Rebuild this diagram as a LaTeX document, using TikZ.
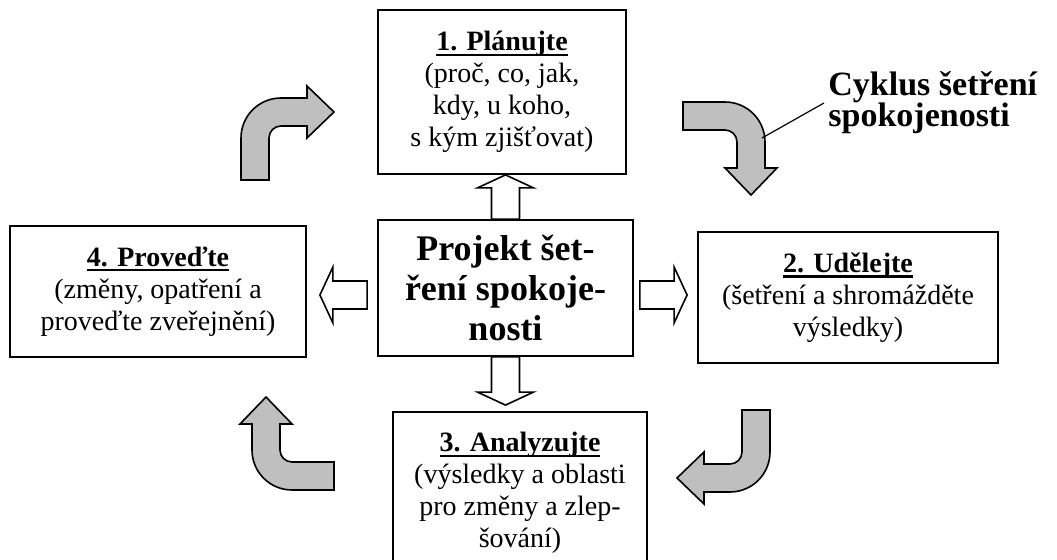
\documentclass[tikz,border=0pt]{standalone}
\usepackage{fontspec}
\setmainfont{Liberation Serif}
\usetikzlibrary{calc}

\newcommand{\titel}[1]{\setbox0\hbox{\textbf{#1}}\leavevmode\rlap{\rule[-2.6pt]{\wd0}{1.1pt}}\box0}

\tikzset{
  box/.style={draw, rectangle, line width=0.9pt, align=center, font=\fontsize{14}{16}\selectfont},
  hollow/.style={draw, fill=white, line width=0.8pt, line join=miter},
  grayarrow/.style={draw, fill=black!25, line width=0.8pt},
  bent/.pic={\draw[grayarrow] (0,82) -- (0,40) .. controls (0,17.91) and (17.91,0) .. (40,0) -- (66,0) -- (66,-12) -- (93,14) -- (66,40) -- (66,28) -- (40,28) .. controls (33.37,28) and (28,33.37) .. (28,40) -- (28,82) -- cycle;}
}

\newcommand{\hollowarrow}[2]{%
  \draw[hollow] let \p1=(#1), \p2=(#2),
    \n1={atan2(\y2-\y1,\x2-\x1)}, \n2={veclen(\x2-\x1,\y2-\y1)} in
    [shift={(\p1)}, rotate=\n1]
    (0pt,-7pt) -- ({\n2*1pt-6.5pt},-7pt) -- ({\n2*1pt-6.5pt},-14pt) -- ({\n2*1pt},0pt)
    -- ({\n2*1pt-6.5pt},14pt) -- ({\n2*1pt-6.5pt},7pt) -- (0pt,7pt) -- cycle;}

\begin{document}
\begin{tikzpicture}[x=0.5pt, y=-0.5pt]
\useasboundingbox (0,0) rectangle (1057,560);
\clip (0,0) rectangle (1057,560);
\fill[white] (0,0) rectangle (1057,560);

\node[box, minimum width=124pt, minimum height=82pt](B1) at (502,92) {\titel{1. Plánujte}\\(proč, co, jak,\\kdy, u koho,\\s kým zjišťovat)};
\node[box, minimum width=150pt, minimum height=65.5pt](B2) at (848,297.5) {\titel{2. Udělejte}\\(šetření a shromážděte\\výsledky)};
\node[box, minimum width=127pt, minimum height=81pt](B3) at (520,493) {\titel{3. Analyzujte}\\(výsledky a oblasti\\pro změny a zlep-\\šování)};
\node[box, minimum width=148pt, minimum height=65.5pt](B4) at (158,291.5) {\titel{4. Proveďte}\\(změny, opatření a\\proveďte zveřejnění)};

\node[box, minimum width=127.5pt, minimum height=68pt, font=\bfseries\fontsize{18}{20}\selectfont](P) at (505.5,288) {Projekt šet-\\ření spokoje-\\nosti};

% hollow arrows from the project
\coordinate (L1) at ($(P.west)+(-10,7)$);
\coordinate (L2) at ($(B4.east|-L1)+(13,0)$);
\coordinate (R1) at ($(P.east)+(6,7)$);
\coordinate (R2) at ($(B2.west|-R1)+(-10,0)$);
\hollowarrow{P.north}{P.north |- B1.south}
\hollowarrow{P.south}{$(P.south |- B3.north)+(0,-6)$}
\hollowarrow{L1}{L2}
\hollowarrow{R1}{R2}

% gray cycle arrows
\pic at (241,98) {bent};
\pic[rotate=-90] at (765,102) {bent};
\pic[rotate=180] at (770,492) {bent};
\pic[rotate=90] at (252,490) {bent};

\node[align=left, anchor=west, inner sep=2pt, font=\bfseries\fontsize{17}{15.5}\selectfont](cyk) at (824,103) {Cyklus šetření\\spokojenosti};
\coordinate (hit) at (762,138);
\draw[line width=0.6pt](cyk.west) -- (hit);
\end{tikzpicture}
\end{document}
